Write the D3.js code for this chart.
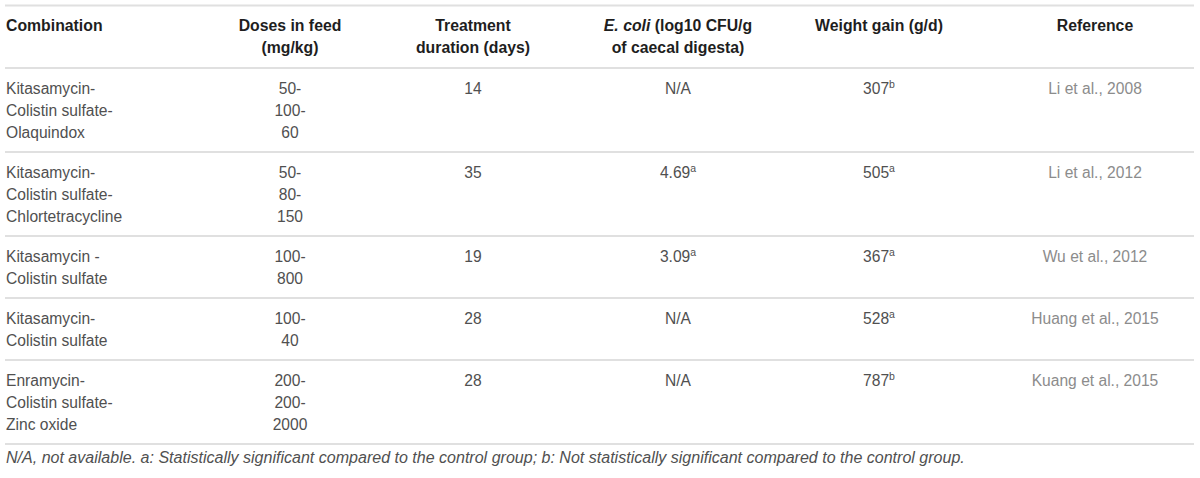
<!DOCTYPE html>
<html>
<head>
<meta charset="utf-8">
<script src="https://cdn.jsdelivr.net/npm/d3@7"></script>
<style>
  html, body { margin: 0; padding: 0; background: #fff; }
  svg { display: block; }
</style>
</head>
<body>
<svg id="chart" width="1200" height="478"></svg>
<script>
// ---- DATA ----
const headers = [
  ["Combination"],
  ["Doses in feed", "(mg/kg)"],
  ["Treatment", "duration (days)"],
  [[{t: "E. coli", i: true}, {t: " (log10 CFU/g"}], "of caecal digesta)"],
  ["Weight gain (g/d)"],
  ["Reference"]
];
const combinations = [
  ["Kitasamycin-", "Colistin sulfate-", "Olaquindox"],
  ["Kitasamycin-", "Colistin sulfate-", "Chlortetracycline"],
  ["Kitasamycin -", "Colistin sulfate"],
  ["Kitasamycin-", "Colistin sulfate"],
  ["Enramycin-", "Colistin sulfate-", "Zinc oxide"]
];
const doses = [
  ["50-", "100-", "60"],
  ["50-", "80-", "150"],
  ["100-", "800"],
  ["100-", "40"],
  ["200-", "200-", "2000"]
];
const durations = ["14", "35", "19", "28", "28"];
const ecoliValues = ["N/A", "4.69", "3.09", "N/A", "N/A"];
const ecoliSup = ["", "a", "a", "", ""];
const weightGain = ["307", "505", "367", "528", "787"];
const weightSup = ["b", "a", "a", "a", "b"];
const references = ["Li et al., 2008", "Li et al., 2012", "Wu et al., 2012", "Huang et al., 2015", "Kuang et al., 2015"];
const footnote = "N/A, not available. a: Statistically significant compared to the control group; b: Not statistically significant compared to the control group.";

// ---- LAYOUT ----
const font = "'Liberation Sans', Arial, Helvetica, sans-serif";
const colX = [6, 290, 473, 678, 879, 1095];
const colAnchor = ["start", "middle", "middle", "middle", "middle", "middle"];
const lineH = 22, firstOff = 26, bottomPad = 14;
const left = 5, right = 1194;
const topLine = 5.5, headerLine = 68;
const bodySize = 15.6, headSize = 15.8, supSize = 10.5;
const footEnd = 965;

const svg = d3.select("#chart").style("font-family", font);

const rows = combinations.map((c, i) => ({
  cells: [
    c.map(t => [{t}]),
    doses[i].map(t => [{t}]),
    [[{t: durations[i]}]],
    [[{t: ecoliValues[i]}].concat(ecoliSup[i] ? [{t: ecoliSup[i], sup: true}] : [])],
    [[{t: weightGain[i]}, {t: weightSup[i], sup: true}]],
    [[{t: references[i], ref: true}]]
  ],
  n: Math.max(c.length, doses[i].length)
}));

let y = headerLine;
rows.forEach(r => { r.y0 = y; r.h = firstOff + lineH * (r.n - 1) + bottomPad; y += r.h; r.y1 = y; });
const bottomLine = y;

const ruleYs = [topLine, headerLine].concat(rows.map(r => r.y1));
svg.selectAll("line.rule").data(ruleYs).join("line")
  .attr("class", "rule")
  .attr("x1", left).attr("x2", right)
  .attr("y1", d => d).attr("y2", d => d)
  .attr("stroke", "#e0e0e0").attr("stroke-width", 2);

function writeLine(sel, parts) {
  parts.forEach(p => {
    const ts = sel.append("tspan").text(p.t);
    if (p.i) ts.attr("font-style", "italic");
    if (p.sup) ts.attr("font-size", supSize).attr("dy", -6.5);
    if (p.ref) ts.attr("fill", "#8c8c8c");
  });
}

headers.forEach((h, ci) => {
  h.forEach((ln, li) => {
    const t = svg.append("text")
      .attr("x", colX[ci]).attr("y", 31 + li * 21.5)
      .attr("text-anchor", colAnchor[ci])
      .attr("font-size", headSize).attr("font-weight", "bold").attr("fill", "#1e1e1e");
    writeLine(t, typeof ln === "string" ? [{t: ln}] : ln);
  });
});

rows.forEach(r => {
  r.cells.forEach((cell, ci) => {
    cell.forEach((ln, li) => {
      const t = svg.append("text")
        .attr("x", colX[ci]).attr("y", r.y0 + firstOff + li * lineH)
        .attr("text-anchor", colAnchor[ci])
        .attr("font-size", bodySize).attr("fill", "#505050");
      writeLine(t, ln);
    });
  });
});

const foot = svg.append("text")
  .attr("x", 6).attr("y", bottomLine + 18.5)
  .attr("font-size", bodySize).attr("font-style", "italic").attr("fill", "#505050")
  .text(footnote);
const fw = foot.node().getComputedTextLength();
if (fw > 0) foot.attr("font-size", bodySize * (footEnd - 6) / fw);
</script>
</body>
</html>
